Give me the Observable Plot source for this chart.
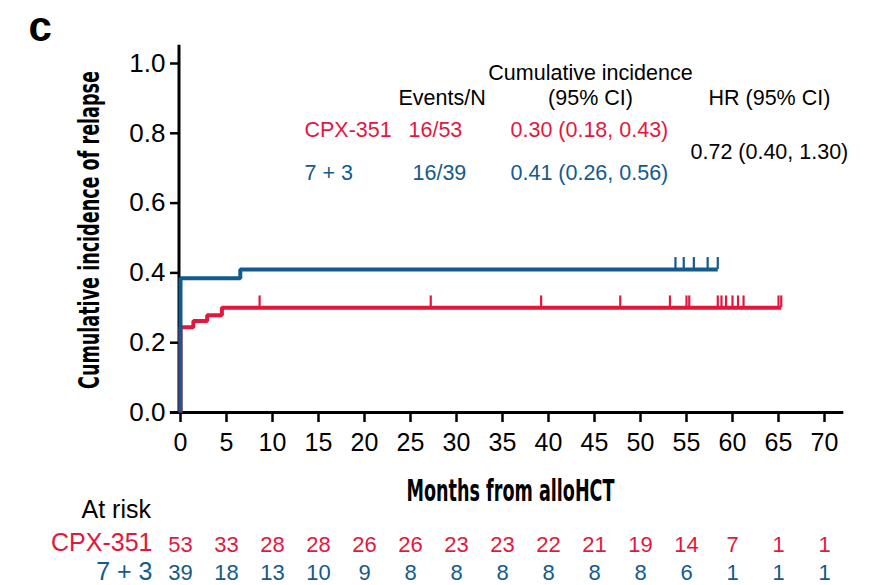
<!DOCTYPE html>
<html>
<head>
<meta charset="utf-8">
<script src="https://cdn.jsdelivr.net/npm/d3@7"></script>
<script src="https://cdn.jsdelivr.net/npm/@observablehq/plot@0.6"></script>
<style>
  html, body { margin: 0; padding: 0; background: #ffffff; }
  #chart { width: 872px; height: 585px; }
</style>
</head>
<body>
<div id="chart"></div>
<script>
// ---- data ----
const groups = ["CPX-351", "7 + 3"];
const groupColors = ["#E3173E", "#135A8D"];

// cumulative incidence step curves: event times (months) and values
const cpxTimes = [0, 0, 1.4, 2.9, 4.5, 65.3];
const cpxCI    = [0, 0.244, 0.262, 0.279, 0.300, 0.300];
const stdTimes = [0, 0, 6.5, 58.4];
const stdCI    = [0, 0.385, 0.410, 0.410];

// censoring marks (months)
const cpxCensor = [8.6, 27.2, 39.2, 47.8, 53.2, 55.0, 55.3, 58.4, 58.8, 59.3, 60.0, 60.6, 61.2, 65.0, 65.3];
const stdCensor = [53.8, 54.7, 55.8, 57.3, 58.4];

// axes
const xTicks = [0, 5, 10, 15, 20, 25, 30, 35, 40, 45, 50, 55, 60, 65, 70];
const yTicks = [0, 0.2, 0.4, 0.6, 0.8, 1.0];

// numbers at risk at each x tick
const atRiskCPX = [53, 33, 28, 28, 26, 26, 23, 23, 22, 21, 19, 14, 7, 1, 1];
const atRiskStd = [39, 18, 13, 10, 9, 8, 8, 8, 8, 8, 8, 6, 1, 1, 1];

// summary table
const eventsN = ["16/53", "16/39"];
const cumInc  = ["0.30 (0.18, 0.43)", "0.41 (0.26, 0.56)"];
const hazardRatio = "0.72 (0.40, 1.30)";

// ---- build tables ----
const red = groupColors[0], blue = groupColors[1];
const curve = (times, vals) => times.map((t, i) => ({t, v: vals[i]}));
const cpxCurve = curve(cpxTimes, cpxCI);
const stdCurve = curve(stdTimes, stdCI);
function levelAt(times, vals, t) {
  let v = vals[0];
  for (let i = 0; i < times.length; i++) if (times[i] <= t) v = vals[i];
  return v;
}
const cpxMarks = cpxCensor.map(t => ({t, v: levelAt(cpxTimes, cpxCI, t)}));
const stdMarks = stdCensor.map(t => ({t, v: levelAt(stdTimes, stdCI, t)}));
const riskCPX = xTicks.map((t, i) => ({t, n: atRiskCPX[i]}));
const riskStd = xTicks.map((t, i) => ({t, n: atRiskStd[i]}));

const sans = "'Liberation Sans', Arial, Helvetica, sans-serif";
const narrow = "'Liberation Sans Narrow', 'DejaVu Sans Condensed', 'Liberation Sans', sans-serif";
const tickH = 0.034; // censor tick height in y units
const fs = 21.5;     // summary table font size

const label = (txt, o) => Plot.text([txt], {text: d => d, frameAnchor: "top-left", lineAnchor: "bottom", fontSize: fs, fill: "#000", ...o});

const chart = Plot.plot({
  width: 872,
  height: 585,
  marginLeft: 180,
  marginRight: 48,
  marginTop: 63,
  marginBottom: 173,
  x: {domain: [0, 70], label: null},
  y: {domain: [0, 1], label: null},
  style: {fontFamily: sans, background: "#ffffff", color: "#000", overflow: "visible"},
  marks: [
    // axes
    Plot.axisY({ticks: yTicks, tickFormat: d3.format(".1f"), tickSize: 10, tickPadding: 5, fontSize: 26, strokeWidth: 2.5, label: null}),
    Plot.axisX({ticks: xTicks, tickSize: 10, tickPadding: 11, fontSize: 25, strokeWidth: 2.5, label: null}),
    Plot.ruleY([0], {x1: -1.1, x2: 72.1, stroke: "#000", strokeWidth: 3}),
    Plot.ruleX([0], {y1: 0, y2: 1.052, stroke: "#000", strokeWidth: 3, dx: -1.5}),

    // curves
    Plot.line(cpxCurve, {x: "t", y: "v", curve: "step-after", stroke: red, strokeWidth: 4, strokeLinejoin: "miter", strokeLinecap: "butt"}),
    Plot.ruleX(cpxMarks, {x: "t", y1: "v", y2: d => d.v + tickH, stroke: red, strokeWidth: 2.2}),
    Plot.line(stdCurve, {x: "t", y: "v", curve: "step-after", stroke: blue, strokeWidth: 4, strokeLinejoin: "miter", strokeLinecap: "butt"}),
    Plot.ruleX(stdMarks, {x: "t", y1: "v", y2: d => d.v + tickH, stroke: blue, strokeWidth: 2.2}),

    // panel letter
    Plot.text(["c"], {text: d => d, frameAnchor: "top-left", dx: -152, dy: -23, lineAnchor: "bottom", textAnchor: "start", fontSize: 42, fontWeight: "bold", fill: "#000"}),

    // axis titles
    Plot.text(["Cumulative incidence of relapse"], {text: d => d, frameAnchor: "left", dx: -82, dy: -8, rotate: -90, lineAnchor: "bottom", textAnchor: "middle", fontSize: 29, fontWeight: "bold", fontFamily: narrow, fill: "#000"}),
    Plot.text(["Months from alloHCT"], {text: d => d, frameAnchor: "bottom", dx: 8, dy: 88, lineAnchor: "bottom", textAnchor: "middle", fontSize: 31, fontWeight: "bold", fontFamily: narrow, fill: "#000"}),

    // summary table
    label("Cumulative incidence", {dx: 410, dy: 16.5, textAnchor: "middle"}),
    label("Events/N", {dx: 218, dy: 41.5, textAnchor: "start"}),
    label("(95% CI)", {dx: 410, dy: 41.5, textAnchor: "middle"}),
    label("HR (95% CI)", {dx: 528, dy: 41.5, textAnchor: "start"}),
    label(groups[0], {dx: 124, dy: 73.5, textAnchor: "start", fill: red}),
    label(eventsN[0], {dx: 228, dy: 73.5, textAnchor: "start", fill: red}),
    label(cumInc[0], {dx: 330, dy: 73.5, textAnchor: "start", fill: red}),
    label(hazardRatio, {dx: 510, dy: 95.5, textAnchor: "start"}),
    label(groups[1], {dx: 124, dy: 116.5, textAnchor: "start", fill: blue}),
    label(eventsN[1], {dx: 232, dy: 116.5, textAnchor: "start", fill: blue}),
    label(cumInc[1], {dx: 330, dy: 116.5, textAnchor: "start", fill: blue}),

    // at-risk table
    Plot.text(["At risk"], {text: d => d, frameAnchor: "bottom-left", dx: -99, dy: 105, lineAnchor: "bottom", textAnchor: "start", fontSize: 25, fill: "#000"}),
    Plot.text([groups[0]], {text: d => d, frameAnchor: "bottom-left", dx: -28, dy: 138, lineAnchor: "bottom", textAnchor: "end", fontSize: 25, fill: red}),
    Plot.text([groups[1]], {text: d => d, frameAnchor: "bottom-left", dx: -28, dy: 167, lineAnchor: "bottom", textAnchor: "end", fontSize: 25, fill: blue}),
    Plot.text(riskCPX, {x: "t", text: "n", frameAnchor: "bottom", dy: 139, lineAnchor: "bottom", textAnchor: "middle", fontSize: 22, fill: red}),
    Plot.text(riskStd, {x: "t", text: "n", frameAnchor: "bottom", dy: 167, lineAnchor: "bottom", textAnchor: "middle", fontSize: 22, fill: blue})
  ]
});

document.getElementById("chart").appendChild(chart);

// squeeze the condensed axis titles horizontally (along the text) to the reference's lengths
function squeeze(el, target) {
  const L = el.getComputedTextLength();
  if (!L) return;
  const s = target / L;
  const x = parseFloat(el.getAttribute("x")) || 0;
  const y = parseFloat(el.getAttribute("y")) || 0;
  const t = el.getAttribute("transform") || "";
  el.setAttribute("transform", `${t} translate(${x},${y}) scale(${s},1) translate(${-x},${-y})`);
}
d3.select(chart).selectAll("text").each(function () {
  const s = this.textContent;
  if (s === "Cumulative incidence of relapse") squeeze(this, 318);
  else if (s === "Months from alloHCT") squeeze(this, 208);
});
</script>
</body>
</html>
